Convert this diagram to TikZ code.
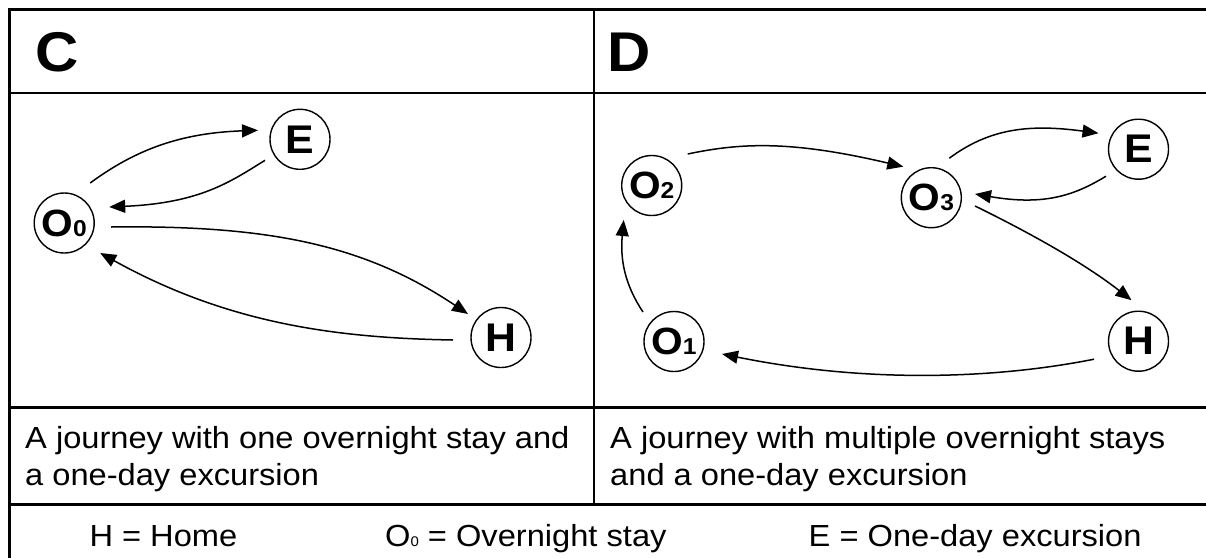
\documentclass[tikz,border=0pt]{standalone}
\usepackage{fontspec}
\setmainfont{Liberation Sans}[FakeStretch=1.07]
\usetikzlibrary{arrows.meta}
\newcommand{\dig}[1]{{\fontsize{23}{23}\selectfont #1}}
\newcommand{\tdig}[1]{{\fontsize{14}{14}\selectfont #1}}
\tikzset{
  stn/.style={circle, draw, line width=1.4pt, minimum size=60pt, inner sep=0pt,
    font=\fontsize{40}{40}\selectfont\bfseries},
  ostn/.style={stn, font=\fontsize{38}{38}\selectfont\bfseries},
  conn/.style={line width=1.5pt, -{Triangle[length=16pt,width=13pt]}},
  rule/.style={line width=2pt},
  heavy/.style={line width=3pt},
  txt/.style={inner sep=0pt, anchor=base west, font=\fontsize{30.5}{37.5}\selectfont},
  head/.style={inner sep=0pt, anchor=base west, font=\fontsize{56}{56}\selectfont\bfseries},
}
\begin{document}
\begin{tikzpicture}[x=1pt, y={(0pt,-1pt)}]
\useasboundingbox (0,0) rectangle (1206,557);
% table
\draw[heavy] (7.8,9) -- (1210,9);
\draw[heavy] (9.3,9) -- (9.3,560);
\draw[rule] (9,93) -- (1210,93);
\draw[rule] (594,9) -- (594,504.3);
\draw[line width=2.5pt] (9,407.7) -- (1210,407.7);
\draw[heavy] (9,504.3) -- (1210,504.3);
% headers
\node[head] (hc) at (35.5,71.7) {C};
\node[head] (hd) at (607.5,71.7) {D};
% panel C nodes
\node[ostn] (O0) at (64.2,223) {\makebox[0pt]{O\dig{0}}};
\node[stn] (EC) at (300,139.3) {\makebox[0pt]{E}};
\node[stn] (HC) at (501,337.5) {\makebox[0pt]{H}};
% panel D nodes
\node[ostn] (O2) at (651.7,185.5) {\makebox[0pt]{O\dig{2}}};
\node[ostn] (O3) at (931.3,197.7) {\makebox[0pt]{O\dig{3}}};
\node[stn] (ED) at (1138.5,149.2) {\makebox[0pt]{E}};
\node[stn] (HD) at (1138.5,341.2) {\makebox[0pt]{H}};
\node[ostn] (O1) at (674,341.5) {\makebox[0pt]{O\dig{1}}};
% panel C connectors
\draw[conn] ([shift={(26,-40)}]O0.center) .. controls (135,150) and (180,133) .. ([shift={(-42,-9)}]EC.center);
\draw[conn] ([shift={(-35,21)}]EC.center) .. controls (230,182) and (200,203) .. ([shift={(45,-16)}]O0.center);
\draw[conn] ([shift={(47,4)}]O0.center) .. controls (270,225) and (365,245) .. ([shift={(-33,-23.5)}]HC.center);
\draw[conn] ([shift={(-48,2.5)}]HC.center) .. controls (340,338) and (230,325) .. ([shift={(36,30)}]O0.center);
% panel D connectors
\draw[conn] ([shift={(36,-31.5)}]O2.center) .. controls (740,143) and (790,140) .. ([shift={(-28,-31)}]O3.center);
\draw[conn] ([shift={(18,-39.5)}]O3.center) .. controls (990,128) and (1030,124) .. ([shift={(-40,-16)}]ED.center);
\draw[conn] ([shift={(-32.5,27)}]ED.center) .. controls (1075,195) and (1045,206) .. ([shift={(43.7,-3.7)}]O3.center);
\draw[conn] ([shift={(43.7,8.3)}]O3.center) .. controls (1020,228) and (1080,260) .. ([shift={(-7,-41)}]HD.center);
\draw[conn] ([shift={(-44.5,18)}]HD.center) .. controls (1010,376) and (880,386) .. ([shift={(48,12.5)}]O1.center);
\draw[conn] ([shift={(-31,-29.5)}]O1.center) .. controls (625,285) and (620,260) .. ([shift={(-28,34.5)}]O2.center);
% captions
\node[txt] (capc1) at (25,448.3) {A journey with one overnight stay and};
\node[txt] (capc2) at (25,485.7) {a one-day excursion};
\node[txt] (capd1) at (610,448.3) {A journey with multiple overnight stays};
\node[txt] (capd2) at (610,485.7) {and a one-day excursion};
% legend
\node[txt] (lh) at (89.3,546.7) {H = Home};
\node[txt] (lo) at (385,546.7) {O\tdig{0} = Overnight stay};
\node[txt] (le) at (808.5,546.7) {E = One-day excursion};
\end{tikzpicture}
\end{document}
